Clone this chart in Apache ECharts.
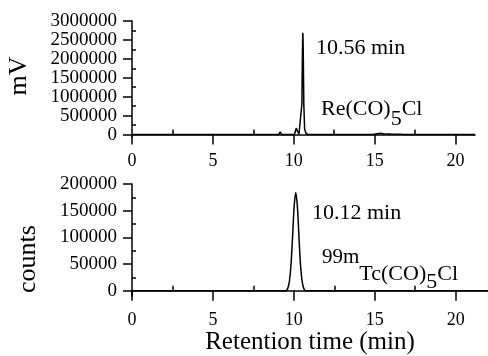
<!DOCTYPE html>
<html>
<head>
<meta charset="utf-8">
<script src="https://cdn.jsdelivr.net/npm/echarts@6/dist/echarts.min.js"></script>
<style>
  html, body { margin: 0; padding: 0; background: #fff; }
  #chart { width: 488px; height: 356px; }
</style>
</head>
<body>
<div id="chart"></div>
<script>
  // Re(CO)5Cl, UV trace [time (min), mV]
  const reTrace = [
    [0, 0], [9.06, 0], [9.12, 40000], [9.16, 70000], [9.2, 40000], [9.26, 0],
    [10.04, 0], [10.1, 100000], [10.16, 170000], [10.22, 90000], [10.32, 15000],
    [10.44, 50000], [10.5, 800000], [10.54, 2350000], [10.56, 2690000],
    [10.58, 2350000], [10.62, 800000], [10.67, 140000], [10.76, 25000], [10.9, 0],
    [14.9, 0], [15.15, 20000], [15.35, 35000], [15.55, 20000], [16.0, 14000],
    [16.6, 10000], [16.8, 0], [21.2, 0]
  ];
  // 99mTc(CO)5Cl, radio trace [time (min), counts]
  const tcTrace = [
    [0, 0], [9.5, 0], [9.62, 4000], [9.72, 16000], [9.82, 46000], [9.92, 99000],
    [10.02, 158000], [10.12, 184000], [10.22, 158000], [10.32, 99000],
    [10.42, 46000], [10.52, 16000], [10.62, 4000], [10.74, 0], [22, 0]
  ];
  const xMajor = [0, 5, 10, 15, 20];
  const xMinor = [2.5, 7.5, 12.5, 17.5];
  const yTopMajor = [0, 500000, 1000000, 1500000, 2000000, 2500000, 3000000];
  const yTopMinor = [250000, 750000, 1250000, 1750000, 2250000, 2750000];
  const yBotMajor = [0, 50000, 100000, 150000, 200000];
  const yBotMinor = [25000, 75000, 125000, 175000];

  const font = 'Liberation Serif';
  const black = '#000';

  function xAxisPair (grid, max) {
    const base = { type: 'value', gridIndex: grid, min: 0, max: max, splitLine: { show: false } };
    return [
      Object.assign({}, base, {
        axisLine: { lineStyle: { color: black, width: 1.5 } },
        axisTick: { customValues: xMajor, length: 10, lineStyle: { color: black, width: 1.5 } },
        axisLabel: { customValues: xMajor, margin: 15, color: black, fontFamily: font, fontSize: 18 }
      }),
      Object.assign({}, base, {
        axisLine: { show: false },
        axisTick: { customValues: xMinor, length: 5, lineStyle: { color: black, width: 1.5 } },
        axisLabel: { show: false }
      })
    ];
  }

  function yAxisPair (grid, min, max, major, minor) {
    const base = { type: 'value', gridIndex: grid, min: min, max: max, splitLine: { show: false } };
    return [
      Object.assign({}, base, {
        axisLine: { show: true, lineStyle: { color: black, width: 1.5 } },
        axisTick: { show: true, customValues: major, length: 9, lineStyle: { color: black, width: 1.5 } },
        axisLabel: {
          customValues: major, margin: 15, color: black, fontFamily: font, fontSize: 19,
          showMinLabel: true, showMaxLabel: true, hideOverlap: false,
          formatter: v => String(v)
        }
      }),
      Object.assign({}, base, {
        axisLine: { show: false },
        axisTick: { show: true, customValues: minor, length: 4, lineStyle: { color: black, width: 1.5 } },
        axisLabel: { show: false }
      })
    ];
  }

  const xAxes = xAxisPair(0, 21.2).concat(xAxisPair(1, 22));
  xAxes[2].name = 'Retention time (min)';
  xAxes[2].nameLocation = 'middle';
  xAxes[2].nameGap = 33;
  xAxes[2].nameTextStyle = { color: black, fontFamily: font, fontSize: 25 };

  const yAxes = yAxisPair(0, -65000, 3000000, yTopMajor, yTopMinor)
    .concat(yAxisPair(1, -10000, 200000, yBotMajor, yBotMinor));

  const lineStyle = { color: black, width: 1.5 };
  const option = {
    animation: false,
    grid: [
      { left: 132, top: 21, width: 343, height: 116 },
      { left: 132, top: 184, width: 356, height: 115 }
    ],
    xAxis: xAxes,
    yAxis: yAxes,
    series: [
      { type: 'line', xAxisIndex: 0, yAxisIndex: 0, data: reTrace, showSymbol: false, lineStyle: lineStyle },
      { type: 'line', xAxisIndex: 2, yAxisIndex: 2, data: tcTrace, showSymbol: false, smooth: 0.3, lineStyle: lineStyle }
    ],
    graphic: [
      { type: 'text', x: 19, y: 76, rotation: Math.PI / 2,
        style: { text: 'mV', font: '26px ' + font, fill: black, align: 'center', verticalAlign: 'middle' } },
      { type: 'text', x: 28, y: 259, rotation: Math.PI / 2,
        style: { text: 'counts', font: '26px ' + font, fill: black, align: 'center', verticalAlign: 'middle' } },
      { type: 'text', x: 316, y: 48,
        style: { text: '10.56 min', font: '22px ' + font, fill: black, verticalAlign: 'middle' } },
      { type: 'text', x: 312, y: 213,
        style: { text: '10.12 min', font: '22px ' + font, fill: black, verticalAlign: 'middle' } },
      { type: 'text', x: 321, y: 98,
        style: {
          text: '{m|Re(CO)}{s|5}{m|Cl}', verticalAlign: 'top', fill: black,
          rich: {
            m: { fontFamily: font, fontSize: 22, lineHeight: 22, verticalAlign: 'top' },
            s: { fontFamily: font, fontSize: 22, lineHeight: 22, verticalAlign: 'top', padding: [10, 0, 0, 0] }
          }
        } },
      { type: 'text', x: 322, y: 247,
        style: {
          text: '{p|99m}{m|Tc(CO)}{s|5}{m|Cl}', verticalAlign: 'top', fill: black,
          rich: {
            p: { fontFamily: font, fontSize: 21, lineHeight: 22, verticalAlign: 'top' },
            m: { fontFamily: font, fontSize: 22, lineHeight: 22, verticalAlign: 'top', padding: [16, 0, 0, 0] },
            s: { fontFamily: font, fontSize: 22, lineHeight: 22, verticalAlign: 'top', padding: [24, 0, 0, 0] }
          }
        } }
    ]
  };

  const chart = echarts.init(document.getElementById('chart'));
  chart.setOption(option);
</script>
</body>
</html>
